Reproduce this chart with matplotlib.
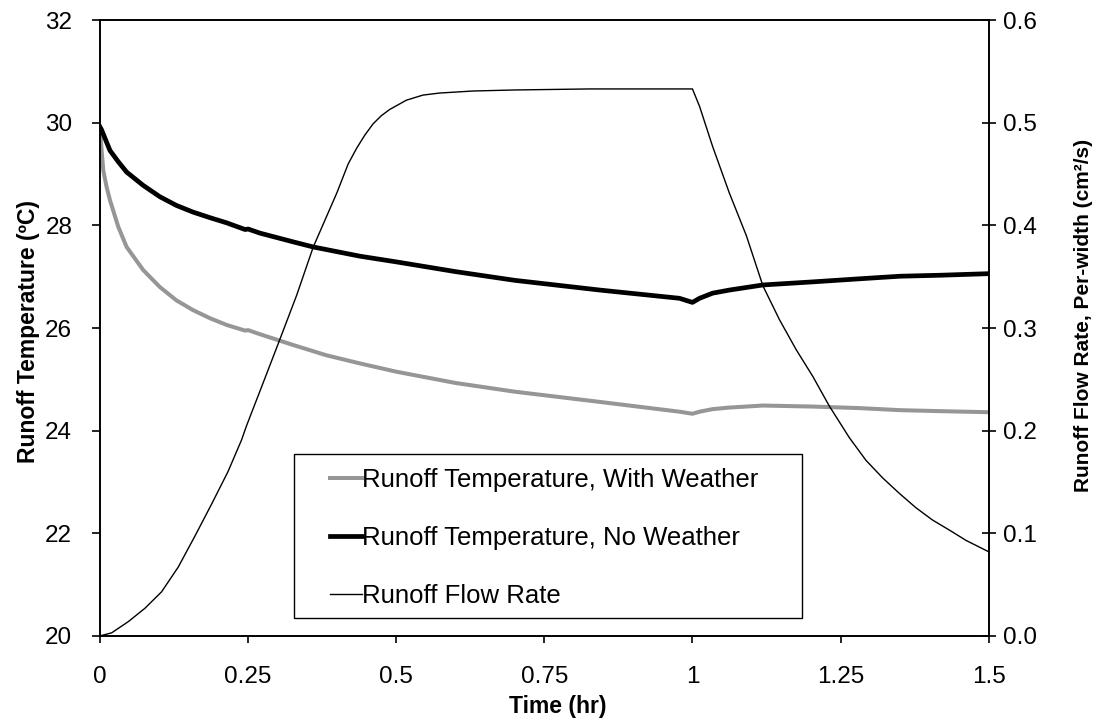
#Runoff temperature (with / without weather) and runoff flow rate over time
#values
import matplotlib.pyplot as plt
from matplotlib.patches import Rectangle

plt.rcParams['font.family'] = ['Liberation Sans', 'DejaVu Sans']

#runoff temperature with weather (grey curve)
t_weather = [0, 0.0028, 0.0056, 0.0112, 0.0169, 0.031, 0.045, 0.073, 0.101, 0.129,
             0.157, 0.186, 0.214, 0.245, 0.25, 0.27, 0.326, 0.382, 0.439, 0.5, 0.6,
             0.7, 0.844, 0.978, 1.0, 1.012, 1.034, 1.062, 1.119, 1.203, 1.282,
             1.35, 1.42, 1.5]
temp_weather = [29.89, 29.46, 29.07, 28.75, 28.49, 27.97, 27.58, 27.13, 26.80, 26.54,
                26.35, 26.19, 26.06, 25.95, 25.96, 25.88, 25.67, 25.47, 25.31, 25.15, 24.93,
                24.76, 24.56, 24.37, 24.33, 24.37, 24.42, 24.45, 24.49, 24.47, 24.44,
                24.40, 24.38, 24.36]

#runoff temperature without weather (black curve)
t_noweather = [0, 0.0028, 0.0084, 0.0169, 0.031, 0.045, 0.073, 0.101, 0.129, 0.157,
               0.186, 0.214, 0.245, 0.25, 0.27, 0.326, 0.36, 0.439, 0.5, 0.6, 0.7,
               0.844, 0.978, 1.0, 1.012, 1.034, 1.062, 1.119, 1.203, 1.282, 1.35,
               1.42, 1.5]
temp_noweather = [29.92, 29.86, 29.70, 29.46, 29.24, 29.04, 28.78, 28.56, 28.39, 28.26,
                  28.15, 28.05, 27.92, 27.93, 27.85, 27.68, 27.58, 27.40, 27.29, 27.10, 26.93,
                  26.74, 26.58, 26.50, 26.58, 26.68, 26.74, 26.84, 26.90, 26.96, 27.01,
                  27.03, 27.06]

#runoff flow rate per width, cm2/s (thin curve, right axis)
t_flow = [0, 0.0197, 0.048, 0.076, 0.104, 0.132, 0.160, 0.188, 0.216, 0.239, 0.2475,
          0.275, 0.301, 0.332, 0.36, 0.40, 0.419, 0.433, 0.447, 0.461, 0.475, 0.489,
          0.517, 0.545, 0.573, 0.63, 0.7, 0.826, 1.0, 1.012, 1.034, 1.062, 1.091,
          1.119, 1.147, 1.175, 1.203, 1.231, 1.265, 1.293, 1.321, 1.349, 1.377,
          1.405, 1.434, 1.462, 1.5]
flow = [0, 0.003, 0.014, 0.027, 0.043, 0.067, 0.097, 0.128, 0.160, 0.191, 0.205,
        0.246, 0.285, 0.332, 0.379, 0.432, 0.460, 0.475, 0.488, 0.499, 0.507, 0.513,
        0.522, 0.527, 0.529, 0.531, 0.532, 0.533, 0.533, 0.516, 0.477, 0.432, 0.390,
        0.341, 0.308, 0.279, 0.253, 0.224, 0.193, 0.171, 0.154, 0.139, 0.125,
        0.113, 0.103, 0.093, 0.082]

fig = plt.figure(figsize=(11.01, 7.21), dpi=100)
ax = fig.add_axes([0.0908, 0.118, 0.8072, 0.854])
ax2 = ax.twinx()

l1, = ax.plot(t_weather, temp_weather, color='#969696', lw=2.9, label='Runoff Temperature, With Weather')
l2, = ax.plot(t_noweather, temp_noweather, color='black', lw=3.4, label='Runoff Temperature, No Weather')
l3, = ax2.plot(t_flow, flow, color='black', lw=1.0, label='Runoff Flow Rate')

ax.set_xlim(0, 1.5)
ax.set_ylim(20, 32)
ax2.set_ylim(0, 0.6)

ax.set_xticks([0, 0.25, 0.5, 0.75, 1, 1.25, 1.5])
ax.set_xticklabels(['0', '0.25', '0.5', '0.75', '1', '1.25', '1.5'])
ax.set_yticks([20, 22, 24, 26, 28, 30, 32])
ax2.set_yticks([0, 0.1, 0.2, 0.3, 0.4, 0.5, 0.6])
ax2.set_yticklabels(['0.0', '0.1', '0.2', '0.3', '0.4', '0.5', '0.6'])

ax.tick_params(axis='x', labelsize=17.5, direction='out', length=5, width=1.2, pad=17)
ax.tick_params(axis='y', labelsize=17.5, direction='out', length=6, width=1.2, pad=14)
ax2.tick_params(axis='y', labelsize=17.5, direction='inout', length=10, width=1.2, pad=5)
for a in (ax, ax2):
    for s in a.spines.values():
        s.set_linewidth(1.2)

ax.set_xlabel('Time (hr)', fontsize=16.5, fontweight='bold')
ax.xaxis.set_label_coords(0.5146, -0.096)
ax.set_ylabel('Runoff Temperature (ºC)', fontsize=16.5, fontweight='bold')
ax.yaxis.set_label_coords(-0.068, 0.494)
ax2.set_ylabel('Runoff Flow Rate, Per-width (cm²/s)', fontsize=15, fontweight='bold')
ax2.yaxis.set_label_coords(1.0956, 0.521)

#legend frame drawn separately so the handles can sit further in from the edge
ax.add_patch(Rectangle((0.2182, 0.0292), 0.5714, 0.2662, transform=ax.transAxes,
                       facecolor='white', edgecolor='black', lw=1.0, zorder=4))
ax.legend(handles=[l1, l2, l3], loc='center left', bbox_to_anchor=(0.2587, 0.159),
          fontsize=18.5, frameon=False, handlelength=1.25, handletextpad=0.0,
          labelspacing=1.315, borderpad=0, borderaxespad=0)

plt.savefig('out.png', dpi=100)
